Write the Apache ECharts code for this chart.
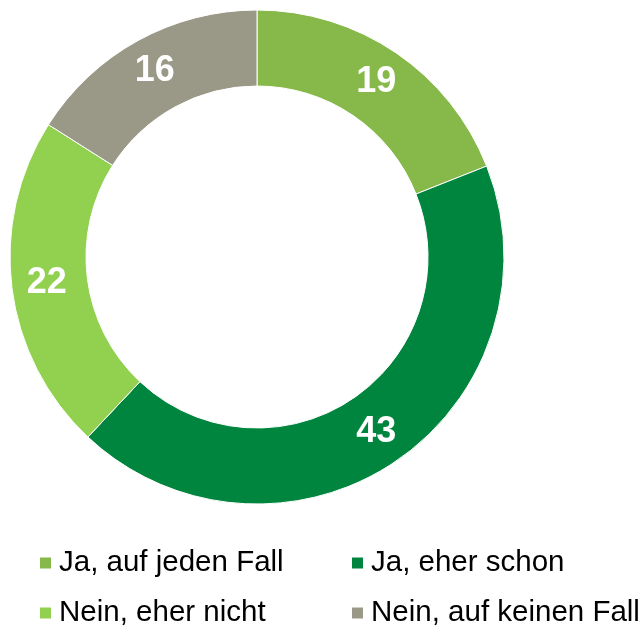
<!DOCTYPE html>
<html>
<head>
<meta charset="utf-8">
<script src="https://cdn.jsdelivr.net/npm/echarts@6/dist/echarts.min.js"></script>
<style>
html,body{margin:0;padding:0;background:#fff;}
#chart{width:641px;height:632px;}
</style>
</head>
<body>
<div id="chart"></div>
<script>
const categories = ["Ja, auf jeden Fall", "Ja, eher schon", "Nein, eher nicht", "Nein, auf keinen Fall"];
const values = [19, 43, 22, 16];
const colors = ["#86B94A", "#00853E", "#92D050", "#9A9886"];

const chart = echarts.init(document.getElementById('chart'), null, {renderer: 'canvas'});
const font = "Arial, 'Liberation Sans', sans-serif";
const legendPos = [[38, 548], [350, 548], [38, 598], [350, 598]];
const legends = categories.map((name, i) => ({
  orient: 'horizontal',
  left: legendPos[i][0],
  top: legendPos[i][1],
  icon: 'rect',
  itemWidth: 13,
  itemHeight: 13,
  selectedMode: false,
  padding: 0,
  data: [name],
  textStyle: {fontFamily: font, fontSize: 29.5, color: '#000', padding: [0, 0, 0, 2]}
}));
chart.setOption({
  animation: false,
  color: colors,
  legend: legends,
  series: [{
    type: 'pie',
    center: [257, 257],
    radius: [171, 247],
    startAngle: 90,
    clockwise: true,
    avoidLabelOverlap: false,
    itemStyle: {borderColor: '#fff', borderWidth: 1},
    label: {
      show: true,
      position: 'inside',
      color: '#fff',
      fontFamily: font,
      fontWeight: 'bold',
      fontSize: 36,
      formatter: '{c}'
    },
    labelLine: {show: false},
    emphasis: {disabled: true},
    data: categories.map((n, i) => ({name: n, value: values[i]}))
  }]
});
</script>
</body>
</html>
